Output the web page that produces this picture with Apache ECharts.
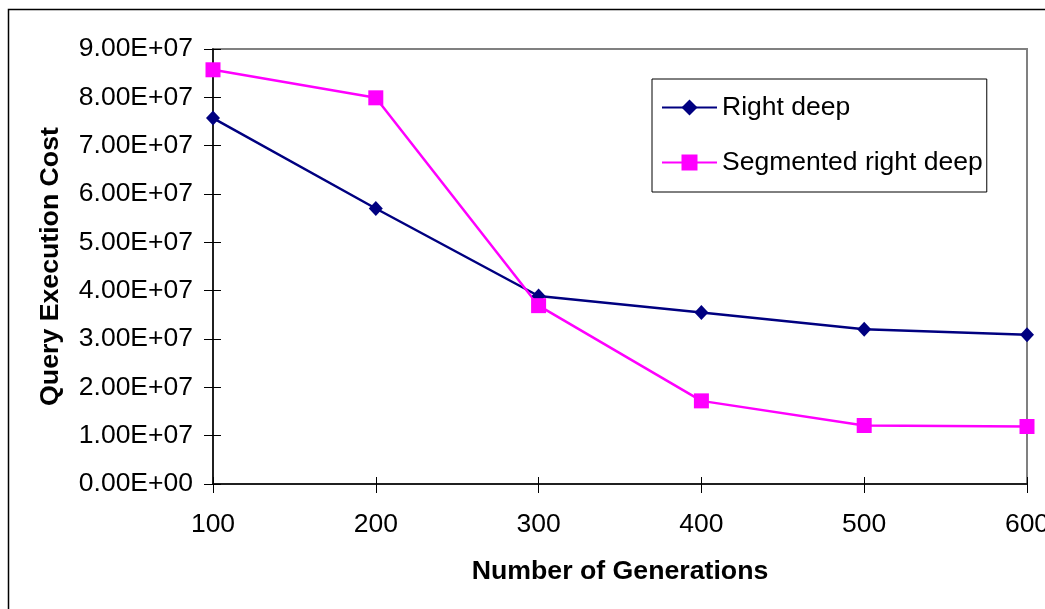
<!DOCTYPE html>
<html>
<head>
<meta charset="utf-8">
<script src="https://cdn.jsdelivr.net/npm/echarts@6/dist/echarts.min.js"></script>
<style>
  html, body { margin: 0; padding: 0; background: #fff; }
  #chart { width: 1045px; height: 609px; }
</style>
</head>
<body>
<div id="chart"></div>
<script>
// data
var generations = ['100', '200', '300', '400', '500', '600'];
var rightDeep = [7.57e7, 5.70e7, 3.89e7, 3.55e7, 3.20e7, 3.09e7];
var segmentedRightDeep = [8.57e7, 7.99e7, 3.69e7, 1.72e7, 1.21e7, 1.19e7];
var yTicks = { min: 0, max: 9e7, interval: 1e7 };

var font = 'Liberation Sans, Arial, sans-serif';

function sciLabel(v) {
    if (v === 0) return '0.00E+00';
    var e = Math.floor(Math.log10(v));
    var m = v / Math.pow(10, e);
    return m.toFixed(2) + 'E+' + (e < 10 ? '0' + e : e);
}

var chart = echarts.init(document.getElementById('chart'));
var option = {
    backgroundColor: '#fff',
    animation: false,
    graphic: [{
        type: 'rect',
        left: 6, top: 7,
        shape: { width: 1200, height: 800 },
        style: { fill: 'none', stroke: '#000', lineWidth: 1.5 },
        silent: true
    }],
    grid: {
        left: 213, right: 18, top: 49, bottom: 125,
        outerBoundsMode: 'none',
        containLabel: false,
        show: true,
        borderColor: '#808080',
        borderWidth: 2
    },
    legend: {
        orient: 'vertical',
        left: 652, top: 79,
        padding: [15, 4, 16, 9],
        itemGap: 28,
        itemWidth: 55,
        itemHeight: 20,
        borderColor: '#000',
        borderWidth: 1,
        backgroundColor: '#fff',
        textStyle: { fontFamily: font, fontSize: 26.5, color: '#000', lineHeight: 27 },
        data: ['Right deep', 'Segmented right deep']
    },
    xAxis: [{
        type: 'category',
        data: generations,
        boundaryGap: false,
        name: 'Number of Generations',
        nameLocation: 'middle',
        nameGap: 74,
        nameTextStyle: { fontFamily: font, fontSize: 26.7, fontWeight: 'bold', color: '#000' },
        axisLine: { lineStyle: { color: '#000', width: 1.5 } },
        axisTick: { alignWithLabel: true, length: 9, lineStyle: { color: '#000' } },
        axisLabel: { fontFamily: font, fontSize: 26.5, color: '#000', margin: 27 },
        splitLine: { show: false }
    }, {
        type: 'category',
        data: generations,
        boundaryGap: false,
        position: 'bottom',
        axisLine: { show: false },
        axisTick: { inside: true, length: 7, lineStyle: { color: '#000' } },
        axisLabel: { show: false },
        splitLine: { show: false }
    }],
    yAxis: [{
        type: 'value',
        min: yTicks.min, max: yTicks.max, interval: yTicks.interval,
        name: 'Query Execution Cost',
        nameLocation: 'middle',
        nameGap: 149,
        nameTextStyle: { fontFamily: font, fontSize: 26.7, fontWeight: 'bold', color: '#000' },
        axisLine: { show: true, lineStyle: { color: '#000', width: 1.5 } },
        axisTick: { show: true, length: 9, lineStyle: { color: '#000' } },
        axisLabel: { fontFamily: font, fontSize: 26.5, color: '#000', margin: 20, formatter: sciLabel },
        splitLine: { show: false }
    }, {
        type: 'value',
        min: yTicks.min, max: yTicks.max, interval: yTicks.interval,
        position: 'left',
        axisLine: { show: false },
        axisTick: { show: true, inside: true, length: 8, lineStyle: { color: '#000' } },
        axisLabel: { show: false },
        splitLine: { show: false }
    }],
    series: [{
        name: 'Right deep',
        type: 'line',
        data: rightDeep,
        symbol: 'diamond',
        symbolSize: [14, 15],
        color: '#000080',
        lineStyle: { color: '#000080', width: 2.5 },
        itemStyle: { color: '#000080' }
    }, {
        name: 'Segmented right deep',
        type: 'line',
        data: segmentedRightDeep,
        symbol: 'rect',
        symbolSize: 15,
        color: '#ff00ff',
        lineStyle: { color: '#ff00ff', width: 2.5 },
        itemStyle: { color: '#ff00ff' }
    }]
};
chart.setOption(option);
</script>
</body>
</html>
